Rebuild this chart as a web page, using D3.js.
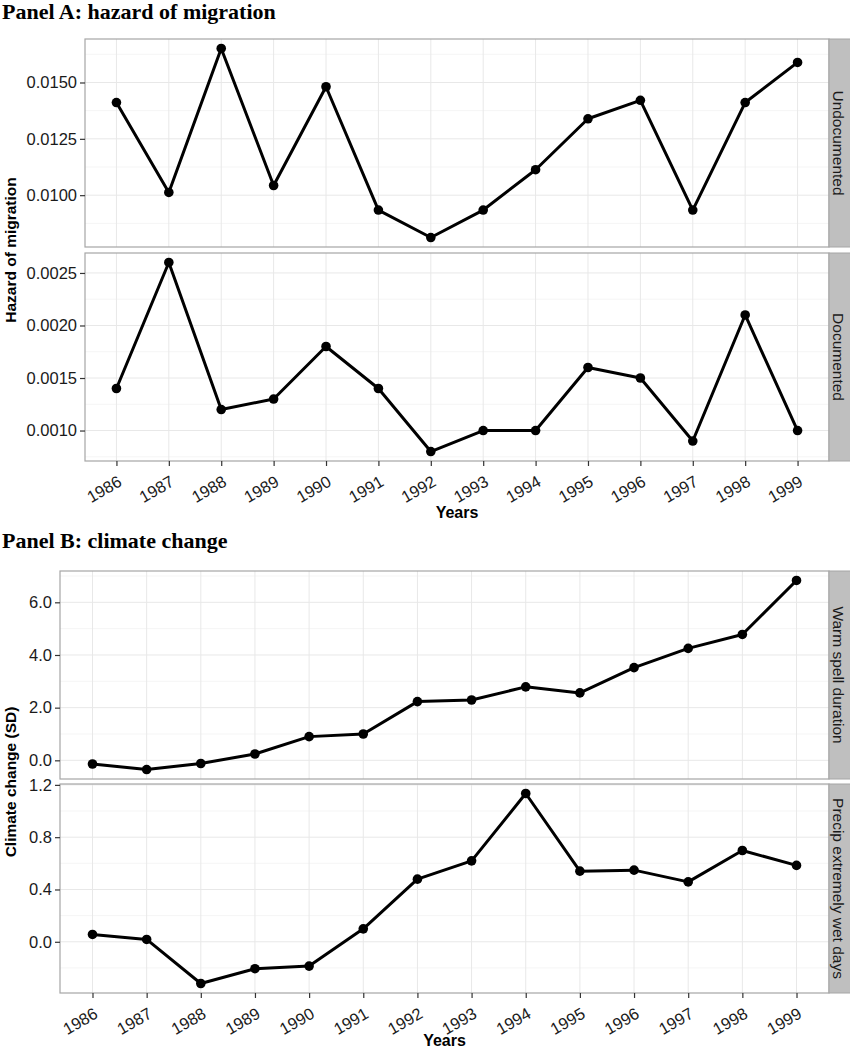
<!DOCTYPE html>
<html>
<head>
<meta charset="utf-8">
<script src="https://cdn.jsdelivr.net/npm/d3@7/dist/d3.min.js"></script>
<style>
body { margin: 0; background: #fff; }
svg { display: block; }
</style>
</head>
<body>
<script>
var years = ["1986","1987","1988","1989","1990","1991","1992","1993","1994","1995","1996","1997","1998","1999"]

var undocumented = [0.01411, 0.01012, 0.01651, 0.01043, 0.01481, 0.00934, 0.00812, 0.00934, 0.01113, 0.01339, 0.01421, 0.00934, 0.01411, 0.01589]
var documented = [0.0014, 0.0026, 0.0012, 0.0013, 0.0018, 0.0014, 0.0008, 0.0010, 0.0010, 0.0016, 0.0015, 0.0009, 0.0021, 0.0010]
var warmSpell = [-0.14, -0.35, -0.12, 0.24, 0.90, 1.00, 2.23, 2.29, 2.79, 2.56, 3.52, 4.25, 4.78, 6.83]
var precipWet = [0.056, 0.018, -0.319, -0.206, -0.186, 0.099, 0.479, 0.619, 1.134, 0.540, 0.548, 0.458, 0.698, 0.584]

var undocTicks = [0.0100, 0.0125, 0.0150]
var docTicks = [0.0010, 0.0015, 0.0020, 0.0025]
var warmTicks = [0, 2, 4, 6]
var precipTicks = [0, 0.4, 0.8, 1.2]

var svg = d3.select("body").append("svg")
    .attr("width", 850)
    .attr("height", 1050)

var sans = "'Liberation Sans', Arial, sans-serif"

// one facet panel: grid, border, line, points, y axis, strip
var drawFacet = function(g, values, ticks, fmt, label, x, left, right, top, bottom) {
  var ext = d3.extent(values)
  var pad = (ext[1] - ext[0]) * 0.05
  var y = d3.scaleLinear().domain([ext[0] - pad, ext[1] + pad]).range([bottom, top])

  var step = ticks[1] - ticks[0]
  var minor = []
  for (var v = ticks[0] - step / 2; v <= y.domain()[1]; v += step) {
    if (v >= y.domain()[0]) minor.push(v)
  }

  var p = g.append("g")
  p.append("rect")
    .attr("x", left).attr("y", top)
    .attr("width", right - left).attr("height", bottom - top)
    .attr("fill", "#fff")

  p.selectAll(".minor").data(minor).enter().append("line")
    .attr("x1", left).attr("x2", right)
    .attr("y1", function(d) { return y(d) }).attr("y2", function(d) { return y(d) })
    .attr("stroke", "#f5f5f5").attr("stroke-width", 1)

  p.selectAll(".majory").data(ticks).enter().append("line")
    .attr("x1", left).attr("x2", right)
    .attr("y1", function(d) { return y(d) }).attr("y2", function(d) { return y(d) })
    .attr("stroke", "#e8e8e8").attr("stroke-width", 1)

  p.selectAll(".majorx").data(years).enter().append("line")
    .attr("x1", function(d) { return x(d) }).attr("x2", function(d) { return x(d) })
    .attr("y1", top).attr("y2", bottom)
    .attr("stroke", "#e8e8e8").attr("stroke-width", 1)

  var line = d3.line()
    .x(function(d, i) { return x(years[i]) })
    .y(function(d) { return y(d) })

  p.append("path")
    .datum(values)
    .attr("d", line)
    .attr("fill", "none")
    .attr("stroke", "#000")
    .attr("stroke-width", 3)
    .attr("stroke-linejoin", "round")

  p.selectAll("circle").data(values).enter().append("circle")
    .attr("cx", function(d, i) { return x(years[i]) })
    .attr("cy", function(d) { return y(d) })
    .attr("r", 4.8)
    .attr("fill", "#000")

  p.append("rect")
    .attr("x", left).attr("y", top)
    .attr("width", right - left).attr("height", bottom - top)
    .attr("fill", "none").attr("stroke", "#a6a6a6").attr("stroke-width", 1.2)

  var yAxis = d3.axisLeft(y).tickValues(ticks).tickFormat(d3.format(fmt)).tickSize(5).tickPadding(3)
  var ax = p.append("g").attr("transform", "translate(" + left + ",0)").call(yAxis)
  ax.select(".domain").remove()
  ax.selectAll(".tick line").attr("stroke", "#333").attr("stroke-width", 1.2)
  ax.selectAll("text")
    .attr("font-family", sans).attr("font-size", 16.5).attr("fill", "#1a1a1a")

  // strip on the right
  p.append("rect")
    .attr("x", right).attr("y", top)
    .attr("width", 24).attr("height", bottom - top)
    .attr("fill", "#bfbfbf").attr("stroke", "#a6a6a6").attr("stroke-width", 1)
  p.append("text")
    .attr("transform", "translate(" + (right + 9) + "," + ((top + bottom) / 2) + ") rotate(90)")
    .attr("text-anchor", "middle")
    .attr("dominant-baseline", "central")
    .attr("font-family", sans).attr("font-size", 15.5)
    .attr("fill", "#1a1a1a")
    .text(label)
}

var drawXAxis = function(g, x, bottom) {
  var xAxis = d3.axisBottom(x).tickSize(5).tickPadding(3)
  var ax = g.append("g").attr("transform", "translate(0," + bottom + ")").call(xAxis)
  ax.select(".domain").remove()
  ax.selectAll(".tick line").attr("stroke", "#333").attr("stroke-width", 1.2)
  ax.selectAll("text")
    .attr("font-family", sans).attr("font-size", 16.5).attr("fill", "#1a1a1a")
    .attr("text-anchor", "end")
    .attr("dy", null)
    .attr("y", null)
    .attr("transform", "translate(6,24) rotate(-30)")
}

var drawPanel = function(cfg) {
  var g = svg.append("g")
  var x = d3.scalePoint().domain(years).range([cfg.left, cfg.right]).padding(0.6)

  g.append("text")
    .attr("x", 2).attr("y", cfg.titleY)
    .attr("font-family", "'Liberation Serif', 'Times New Roman', serif")
    .attr("font-weight", "bold").attr("font-size", 22)
    .attr("fill", "#000")
    .text(cfg.title)

  drawFacet(g, cfg.v1, cfg.t1, cfg.fmt, cfg.l1, x, cfg.left, cfg.right, cfg.top1, cfg.bottom1)
  drawFacet(g, cfg.v2, cfg.t2, cfg.fmt, cfg.l2, x, cfg.left, cfg.right, cfg.top2, cfg.bottom2)
  drawXAxis(g, x, cfg.bottom2)

  g.append("text")
    .attr("x", (cfg.left + cfg.right) / 2).attr("y", cfg.bottom2 + cfg.xtitleGap)
    .attr("text-anchor", "middle")
    .attr("font-family", sans).attr("font-weight", "bold").attr("font-size", 16)
    .attr("fill", "#000")
    .text("Years")

  g.append("text")
    .attr("transform", "translate(16," + ((cfg.top1 + cfg.bottom2) / 2) + ") rotate(-90)")
    .attr("text-anchor", "middle")
    .attr("font-family", sans).attr("font-weight", "bold").attr("font-size", 15.5)
    .attr("fill", "#000")
    .text(cfg.ytitle)
}

drawPanel({
  title: "Panel A: hazard of migration", titleY: 19,
  left: 85, right: 829, top1: 39, bottom1: 247, top2: 253, bottom2: 461,
  v1: undocumented, t1: undocTicks, l1: "Undocumented",
  v2: documented, t2: docTicks, l2: "Documented",
  fmt: ".4f", ytitle: "Hazard of migration", xtitleGap: 57
})

drawPanel({
  title: "Panel B: climate change", titleY: 548,
  left: 60, right: 829, top1: 571, bottom1: 779, top2: 784, bottom2: 993,
  v1: warmSpell, t1: warmTicks, l1: "Warm spell duration",
  v2: precipWet, t2: precipTicks, l2: "Precip extremely wet days",
  fmt: ".1f", ytitle: "Climate change (SD)", xtitleGap: 53
})
</script>
</body>
</html>
